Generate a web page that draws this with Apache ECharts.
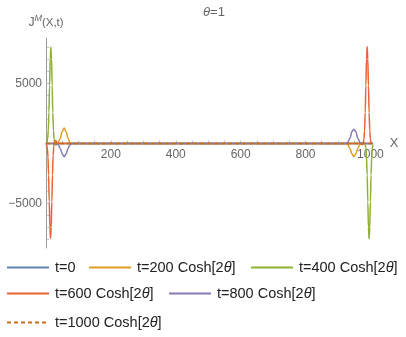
<!DOCTYPE html>
<html><head><meta charset="utf-8">
<script src="https://cdn.jsdelivr.net/npm/echarts@6/dist/echarts.min.js"></script>
<style>html,body{margin:0;padding:0;background:#fff}#c{width:406px;height:337px}</style>
</head><body><div id="c"></div>
<script>
// ---- data ----
const seriesNames = ['t=0', 't=200 Cosh[2θ]', 't=400 Cosh[2θ]', 't=600 Cosh[2θ]', 't=800 Cosh[2θ]', 't=1000 Cosh[2θ]'];
const xTickLabels = [200, 400, 600, 800, 1000];
const yTickLabels = [-5000, 5000];

const x0 = [0, 1008];
const y0 = [0, 0];

const x200 = [0, 30, 38, 44, 50, 56, 62, 68, 74, 82, 90, 910, 920, 930, 937, 943, 949, 955, 961, 968, 980, 1008];
const y200 = [0, 0, 100, 450, 1000, 1300, 1000, 450, 100, 0, 0, 0, 0, -80, -400, -850, -1100, -850, -400, -80, 0, 0];

const x400 = [0, 3, 5, 7, 9, 11, 13, 15, 17, 19, 21, 23, 25, 27, 30, 34, 40, 60, 960, 976, 980, 984, 986, 988, 990, 992, 994, 996, 998, 1000, 1002, 1004, 1006, 1008];
const y400 = [0, 90, 350, 1080, 2600, 4850, 7060, 8050, 7060, 4850, 2600, 1080, 350, 90, -120, -50, 0, 0, 0, 0, 100, -90, -350, -1080, -2600, -4850, -7000, -7950, -7000, -4850, -2600, -1080, -350, -90];

const x600 = [0, 2, 4, 6, 8, 10, 12, 14, 16, 18, 20, 22, 24, 27, 30, 34, 40, 60, 960, 972, 975, 978, 980, 982, 984, 986, 988, 990, 992, 994, 996, 998, 1000, 1002, 1005, 1008];
const y600 = [0, -90, -350, -1080, -2600, -4850, -7000, -7900, -7000, -4850, -2600, -1000, -200, 200, 250, 80, 0, 0, 0, 0, -100, 90, 350, 1080, 2600, 4850, 7060, 8100, 7060, 4850, 2600, 1080, 350, 90, 0, 0];

const x800 = [0, 30, 38, 44, 50, 56, 62, 68, 74, 82, 90, 910, 920, 930, 937, 943, 949, 955, 961, 968, 980, 1008];
const y800 = [0, 0, -90, -400, -850, -1100, -850, -400, -90, 0, 0, 0, 0, 100, 450, 1000, 1200, 1000, 450, 100, 0, 0];

const x1000 = [0, 1008];
const y1000 = [0, 0];

const xs = [x0, x200, x400, x600, x800, x1000];
const ys = [y0, y200, y400, y600, y800, y1000];
const colors = ['#5E81B5', '#E19C24', '#8FB032', '#EB6235', '#8778B3', '#C56E1A'];

const xMinorTicks = [];
for (let v = 50; v <= 1000; v += 50) xMinorTicks.push(v);
const yMinorTicks = [-8000,-7000,-6000,-5000,-4000,-3000,-2000,-1000,1000,2000,3000,4000,5000,6000,7000,8000];

const Y_MIN = -8700, Y_MAX = 8800;

const chart = echarts.init(document.getElementById('c'), null, {renderer: 'canvas'});
const FONT = '"Liberation Sans", Arial, sans-serif';
const axisGray = '#9a9a9a';
const labelGray = '#666';

const series = seriesNames.map((n, i) => ({
  name: n,
  type: 'line',
  data: xs[i].map((x, k) => [x, ys[i][k]]),
  symbol: 'none',
  smooth: 0.35,
  smoothMonotone: 'x',
  lineStyle: {color: colors[i], width: 1.5, type: i === 5 ? [4, 3] : 'solid'},
  itemStyle: {color: colors[i]},
  z: 3 + i
}));

const legendPos = [
  {left: 6, top: 260}, {left: 88, top: 260}, {left: 250, top: 260},
  {left: 6, top: 286}, {left: 168, top: 286},
  {left: 6, top: 315}
];
const legends = seriesNames.map((n, i) => ({
  data: [n],
  left: legendPos[i].left,
  top: legendPos[i].top,
  padding: 0,
  itemWidth: 42,
  itemHeight: 14,
  itemGap: 0,
  itemStyle: {color: 'rgba(0,0,0,0)', borderWidth: 0, opacity: 0},
  formatter: s => s.replace('θ', '{i|θ}'),
  textStyle: {fontFamily: FONT, fontSize: 14.5, color: '#222', padding: [0, 0, 0, 1],
    rich: {i: {fontFamily: FONT, fontSize: 14.5, fontStyle: 'italic', color: '#222'}}}
}));

chart.setOption({
  animation: false,
  title: {
    text: '{i|θ}=1',
    left: 209, textAlign: 'center', top: 1,
    textStyle: {fontFamily: FONT, fontSize: 13, fontWeight: 'normal', color: '#666',
      rich: {i: {fontFamily: FONT, fontSize: 13, fontStyle: 'italic', color: '#666'}}}
  },
  legend: legends,
  grid: {left: 46, right: 33, top: 38, bottom: 89, containLabel: false, outerBoundsMode: 'none'},
  xAxis: {
    type: 'value', min: 0, max: 1008, position: 'bottom', offset: 0,
    name: 'X', nameLocation: 'end', nameGap: 11,
    nameTextStyle: {fontFamily: FONT, fontSize: 13, color: labelGray},
    axisLine: {show: true, onZero: false, lineStyle: {color: axisGray, width: 1}},
    axisTick: {show: true, inside: true, length: 3, customValues: xMinorTicks, lineStyle: {color: '#bbb'}},
    axisLabel: {show: true, customValues: xTickLabels, fontFamily: FONT, fontSize: 12, color: labelGray, margin: 5,
      formatter: v => String(v)},
    splitLine: {show: false}
  },
  yAxis: {
    type: 'value', min: Y_MIN, max: Y_MAX,
    name: '{j|J}{s|M}{n|(X,t)}', nameLocation: 'end', nameGap: 6,
    nameTextStyle: {align: 'center', fontFamily: FONT, color: labelGray,
      rich: {
        j: {fontFamily: FONT, fontSize: 12, color: labelGray},
        s: {fontFamily: FONT, fontSize: 9, fontStyle: 'italic', color: labelGray, padding: [0, 0, 9, 0]},
        n: {fontFamily: FONT, fontSize: 11.5, color: labelGray}
      }},
    axisLine: {show: true, onZero: true, lineStyle: {color: axisGray, width: 1}},
    axisTick: {show: true, inside: true, length: 3, customValues: yMinorTicks, lineStyle: {color: '#bbb'}},
    axisLabel: {show: true, customValues: yTickLabels, fontFamily: FONT, fontSize: 12, color: labelGray, margin: 4,
      formatter: v => String(v).replace('-', '\u2212')},
    splitLine: {show: false}
  },
  series: series
});

// place the x axis on the y=0 line using the library's own scale
const zeroPx = chart.convertToPixel({yAxisIndex: 0}, 0);
const bottomPx = chart.convertToPixel({yAxisIndex: 0}, Y_MIN);
chart.setOption({xAxis: {offset: zeroPx - bottomPx}});
</script>
</body></html>
